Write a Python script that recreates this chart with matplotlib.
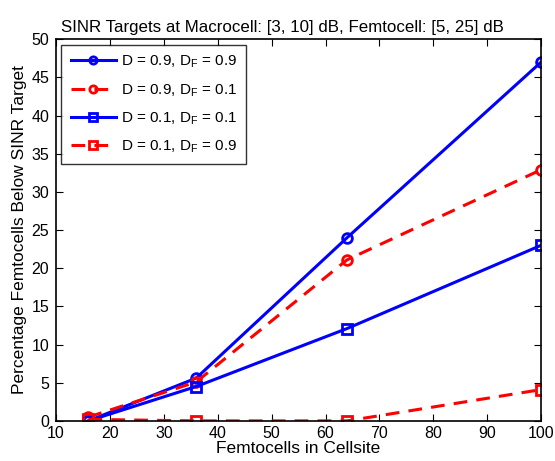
import matplotlib
matplotlib.use('Agg')
import matplotlib.pyplot as plt

plt.rcParams['font.family'] = ['Liberation Sans', 'DejaVu Sans']

# data
femtocells = [16, 36, 64, 100]
d09_df09 = [0.0, 5.6, 24.0, 47.0]
d09_df01 = [0.5, 5.1, 21.1, 32.9]
d01_df01 = [0.0, 4.5, 12.1, 23.0]
d01_df09 = [0.2, 0.0, 0.0, 4.1]

fig = plt.figure(figsize=(5.55, 4.61), dpi=100)
ax = fig.add_axes([0.101, 0.087, 0.874, 0.828])

lw = 2.2
ms = 7
dash = (4.5, 3)
ax.plot(femtocells, d09_df09, '-o', color='#0000ff', lw=lw, ms=ms, mfc='none', mew=2,
        label='D = 0.9, D$_\\mathregular{F}$ = 0.9')
ax.plot(femtocells, d09_df01, '--o', color='#ff0000', lw=lw, ms=ms, mfc='none', mew=2,
        dashes=dash, label='D = 0.9, D$_\\mathregular{F}$ = 0.1')
ax.plot(femtocells, d01_df01, '-s', color='#0000ff', lw=lw, ms=ms, mfc='none', mew=2,
        label='D = 0.1, D$_\\mathregular{F}$ = 0.1')
ax.plot(femtocells, d01_df09, '--s', color='#ff0000', lw=lw, ms=ms, mfc='none', mew=2,
        dashes=dash, label='D = 0.1, D$_\\mathregular{F}$ = 0.9')

ax.set_xlim(10, 100)
ax.set_ylim(0, 50)
ax.set_xticks(range(10, 101, 10))
ax.set_yticks(range(0, 51, 5))
ax.tick_params(direction='in', top=True, right=True, labelsize=11.5, length=5)
ax.tick_params(axis='y', pad=5)
for s in ax.spines.values():
    s.set_linewidth(1.2)

ax.set_xlabel('Femtocells in Cellsite', fontsize=12.5, labelpad=0)
ax.set_ylabel('Percentage Femtocells Below SINR Target', fontsize=12.5, labelpad=3)
ax.set_title('SINR Targets at Macrocell: [3, 10] dB, Femtocell: [5, 25] dB',
             fontsize=12.2, pad=5, x=0.467)

leg = ax.legend(loc='upper left', fontsize=11, fancybox=False, edgecolor='black',
                borderaxespad=0.35, handlelength=3.0, labelspacing=0.75, borderpad=0.6,
                markerscale=0.75, handletextpad=0.3)
leg.get_frame().set_linewidth(1.0)

fig.savefig('out.png', dpi=100)
